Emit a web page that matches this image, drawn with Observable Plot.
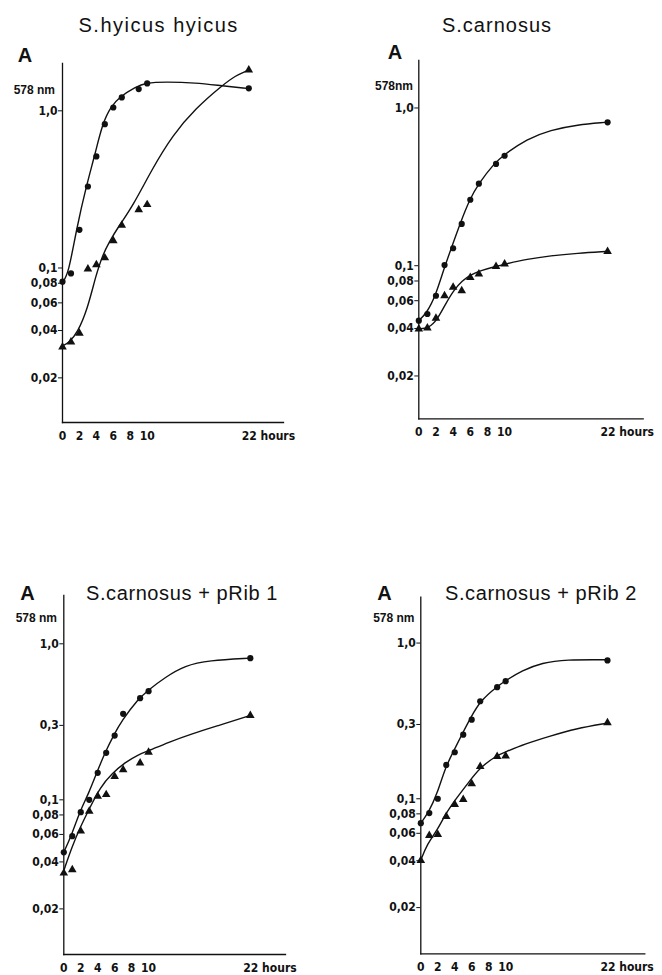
<!DOCTYPE html>
<html><head><meta charset="utf-8">
<script src="https://cdn.jsdelivr.net/npm/d3@7"></script>
<script src="https://cdn.jsdelivr.net/npm/@observablehq/plot@0.6"></script>
<style>
body{margin:0;background:#fff}
#root{position:relative;width:662px;height:975px;background:#fff;overflow:hidden;color:#111}
.t{position:absolute;white-space:nowrap;line-height:1;font-family:"Liberation Sans",Arial,sans-serif}
.title{font-size:20px;font-weight:normal;transform:translate(-50%,-50%)}
.A{font-size:20px;font-weight:bold;transform:translate(-50%,-50%)}
.nm{font-size:12px;font-weight:bold;transform:translate(-100%,-50%)}
.panel{position:absolute}
</style></head><body><div id="root"></div>
<script>
// ---- data ----
const hours = [0, 1, 2, 3, 4, 5, 6, 7, 9, 10, 22];
const xTicks = [0, 2, 4, 6, 8, 10];
const xTickLast = [22];
const yTicksTop = [0.02, 0.04, 0.06, 0.08, 0.1, 1.0];
const yTicksBottom = [0.02, 0.04, 0.06, 0.08, 0.1, 0.3, 1.0];
const titles = ["S.hyicus hyicus", "S.carnosus", "S.carnosus + pRib 1", "S.carnosus + pRib 2"];
const unitLabels = ["578 nm", "578nm", "578 nm", "578 nm"];

// Panel 1: S.hyicus hyicus
const p1Circles = [0.0818, 0.0924, 0.175, 0.330, 0.513, 0.822, 1.05, 1.217, 1.375, 1.494, 1.39];
const p1Triangles = [0.0314, 0.0338, 0.0385, 0.0985, 0.105, 0.116, 0.149, 0.187, 0.235, 0.253, 1.82];
const p1CircleFitH = [0, 0.7, 1.65, 2.83, 3.81, 4.72, 5.7, 6.76, 8.64, 9.82, 12.2, 15.7, 18.9, 21.8];
const p1CircleFitV = [0.081, 0.0916, 0.177, 0.335, 0.521, 0.830, 1.06, 1.23, 1.42, 1.51, 1.53, 1.51, 1.44, 1.39];
const p1TriFitH = [0, 0.78, 1.77, 2.95, 3.93, 4.72, 5.5, 6.68, 8.25, 10.6, 13, 15.7, 18.9, 20.4, 21.8];
const p1TriFitV = [0.0319, 0.0335, 0.0388, 0.0547, 0.0893, 0.120, 0.146, 0.186, 0.245, 0.428, 0.699, 1.035, 1.456, 1.67, 1.80];

// Panel 2: S.carnosus
const p2Circles = [0.0448, 0.0494, 0.0645, 0.101, 0.129, 0.184, 0.262, 0.331, 0.442, 0.498, 0.811];
const p2Triangles = [0.0397, 0.0403, 0.0464, 0.0645, 0.073, 0.0694, 0.0843, 0.0885, 0.099, 0.1025, 0.123];
const p2CircleFitH = [0, 0.97, 1.95, 2.92, 3.89, 4.86, 5.95, 7, 8.74, 9.9, 12.6, 15.35, 18.5, 21.7];
const p2CircleFitV = [0.0448, 0.0506, 0.0645, 0.0953, 0.134, 0.188, 0.265, 0.333, 0.442, 0.504, 0.636, 0.725, 0.783, 0.811];
const p2TriFitH = [0, 1.17, 2.14, 3.11, 4.08, 5.06, 6.03, 7.19, 8.94, 10.1, 12.6, 15.35, 18.5, 21.8];
const p2TriFitV = [0.0397, 0.0403, 0.0453, 0.0572, 0.0701, 0.0804, 0.0877, 0.0930, 0.099, 0.1025, 0.110, 0.1157, 0.120, 0.123];

// Panel 3: S.carnosus + pRib 1
const p3Circles = [0.0461, 0.0585, 0.0833, 0.100, 0.149, 0.200, 0.258, 0.356, 0.448, 0.497, 0.809];
const p3Triangles = [0.0339, 0.0356, 0.063, 0.0845, 0.1055, 0.108, 0.141, 0.156, 0.172, 0.202, 0.347];
const p3CircleFitH = [0, 0.95, 1.93, 2.91, 3.9, 4.88, 5.86, 6.84, 8.8, 9.9, 11.96, 14.3, 17.06, 22];
const p3CircleFitV = [0.0461, 0.060, 0.0854, 0.109, 0.150, 0.202, 0.258, 0.322, 0.444, 0.502, 0.611, 0.726, 0.782, 0.809];
const p3TriFitH = [0, 0.95, 1.93, 3.1, 4.3, 5.66, 7.24, 8.8, 9.9, 12.35, 15.1, 18.2, 22];
const p3TriFitV = [0.0352, 0.0497, 0.0667, 0.0897, 0.1205, 0.147, 0.174, 0.195, 0.205, 0.234, 0.265, 0.299, 0.347];

// Panel 4: S.carnosus + pRib 2
const p4Circles = [0.0697, 0.0809, 0.100, 0.165, 0.199, 0.258, 0.322, 0.423, 0.521, 0.569, 0.773];
const p4Triangles = [0.0402, 0.0581, 0.059, 0.077, 0.092, 0.099, 0.125, 0.161, 0.187, 0.188, 0.308];
const p4CircleFitH = [0, 0.94, 1.93, 2.91, 3.9, 4.88, 5.86, 7.04, 9.0, 9.9, 11.96, 14.3, 17.06, 22];
const p4CircleFitV = [0.0697, 0.082, 0.1077, 0.16, 0.204, 0.261, 0.331, 0.428, 0.526, 0.569, 0.667, 0.747, 0.784, 0.781];
const p4TriFitH = [0, 0.75, 1.93, 2.91, 4.29, 5.66, 7.04, 9.0, 9.9, 12.35, 15.1, 18.24, 22];
const p4TriFitV = [0.0402, 0.0514, 0.0625, 0.080, 0.1024, 0.128, 0.160, 0.190, 0.199, 0.226, 0.251, 0.282, 0.306];

// ---- layout ----
const panels = [
  {left: 0, top: 0, w: 331, h: 450, ml: 62, mr: 48, mt: 63, mb: 28, xMax: 26.1, yDom: [0.0104, 2.0], yTicks: yTicksTop,
   circles: p1Circles, tris: p1Triangles, cfH: p1CircleFitH, cfV: p1CircleFitV, tfH: p1TriFitH, tfV: p1TriFitV,
   title: [158.7, 25], ls: 1.5, A: [25, 55], nm: [55, 90]},
  {left: 331, top: 0, w: 331, h: 450, ml: 87.3, mr: 19.3, mt: 60, mb: 31.7, xMax: 26.15, yDom: [0.0107, 2.0], yTicks: yTicksTop,
   circles: p2Circles, tris: p2Triangles, cfH: p2CircleFitH, cfV: p2CircleFitV, tfH: p2TriFitH, tfV: p2TriFitV,
   title: [497, 25], ls: 1.0, A: [395, 52], nm: [413, 86]},
  {left: 0, top: 500, w: 331, h: 475, ml: 63.3, mr: 46, mt: 95, mb: 21, xMax: 26.15, yDom: [0.0102, 2.04], yTicks: yTicksBottom,
   circles: p3Circles, tris: p3Triangles, cfH: p3CircleFitH, cfV: p3CircleFitV, tfH: p3TriFitH, tfV: p3TriFitV,
   title: [182, 593], ls: 0.6, A: [27.5, 593], nm: [57, 618.3]},
  {left: 331, top: 500, w: 331, h: 475, ml: 89.3, mr: 17.7, mt: 96.7, mb: 21.7, xMax: 26.4, yDom: [0.0101, 1.97], yTicks: yTicksBottom,
   circles: p4Circles, tris: p4Triangles, cfH: p4CircleFitH, cfV: p4CircleFitV, tfH: p4TriFitH, tfV: p4TriFitV,
   title: [541, 593], ls: 0.6, A: [384.5, 593], nm: [414.5, 618]}
];

const fmt = d => d === 1 ? "1,0" : String(d).replace(".", ",");
const FONT = "'Liberation Sans Narrow','DejaVu Sans Condensed','Liberation Sans',Arial,sans-serif";
const root = document.getElementById("root");
const ink = "#111";

panels.forEach((p, i) => {
  const pts = (vals) => hours.map((h, j) => ({h, v: vals[j]}));
  const fit = (H, V) => H.map((h, j) => ({h, v: V[j]}));
  const chart = Plot.plot({
    width: p.w, height: p.h,
    marginLeft: p.ml, marginRight: p.mr, marginTop: p.mt, marginBottom: p.mb,
    style: {fontFamily: FONT, fontSize: "12px", fontWeight: "bold", color: ink, background: "transparent", overflow: "visible"},
    x: {domain: [0, p.xMax]},
    y: {type: "log", domain: p.yDom},
    marks: [
      Plot.frame({anchor: "left", stroke: ink, strokeWidth: 1.3}),
      Plot.frame({anchor: "bottom", stroke: ink, strokeWidth: 1.3}),
      Plot.axisY(p.yTicks, {tickSize: 4, text: null, label: null, stroke: ink}),
      Plot.text(p.yTicks, {y: d => d, text: fmt, frameAnchor: "left", textAnchor: "end", dx: -5,
        fill: ink, fontSize: 12, fontWeight: "bold"}),
      Plot.axisX(xTicks, {tickSize: 0, tickPadding: 9, label: null, fill: ink, fontSize: 12, fontWeight: "bold"}),
      Plot.axisX(xTickLast, {tickSize: 0, tickPadding: 9, label: null, fill: ink, fontSize: 12, fontWeight: "bold",
        tickFormat: d => d + " hours", textAnchor: "start", dx: -7}),
      Plot.line(fit(p.cfH, p.cfV), {x: "h", y: "v", curve: "basis", stroke: ink, strokeWidth: 1.4}),
      Plot.line(fit(p.tfH, p.tfV), {x: "h", y: "v", curve: "basis", stroke: ink, strokeWidth: 1.4}),
      Plot.dot(pts(p.circles), {x: "h", y: "v", r: 3.1, fill: ink, stroke: "none", symbol: "circle"}),
      Plot.dot(pts(p.tris), {x: "h", y: "v", r: 3.2, fill: ink, stroke: "none", symbol: "triangle"})
    ]
  });
  const wrap = document.createElement("div");
  wrap.className = "panel";
  wrap.style.left = p.left + "px";
  wrap.style.top = p.top + "px";
  wrap.appendChild(chart);
  root.appendChild(wrap);

  const addText = (cls, txt, xy, ls) => {
    const d = document.createElement("div");
    d.className = "t " + cls;
    d.textContent = txt;
    d.style.left = xy[0] + "px";
    d.style.top = xy[1] + "px";
    if (ls) d.style.letterSpacing = ls + "px";
    root.appendChild(d);
  };
  addText("title", titles[i], p.title, p.ls);
  addText("A", "A", p.A);
  addText("nm", unitLabels[i], p.nm);
});
</script>
</body></html>
